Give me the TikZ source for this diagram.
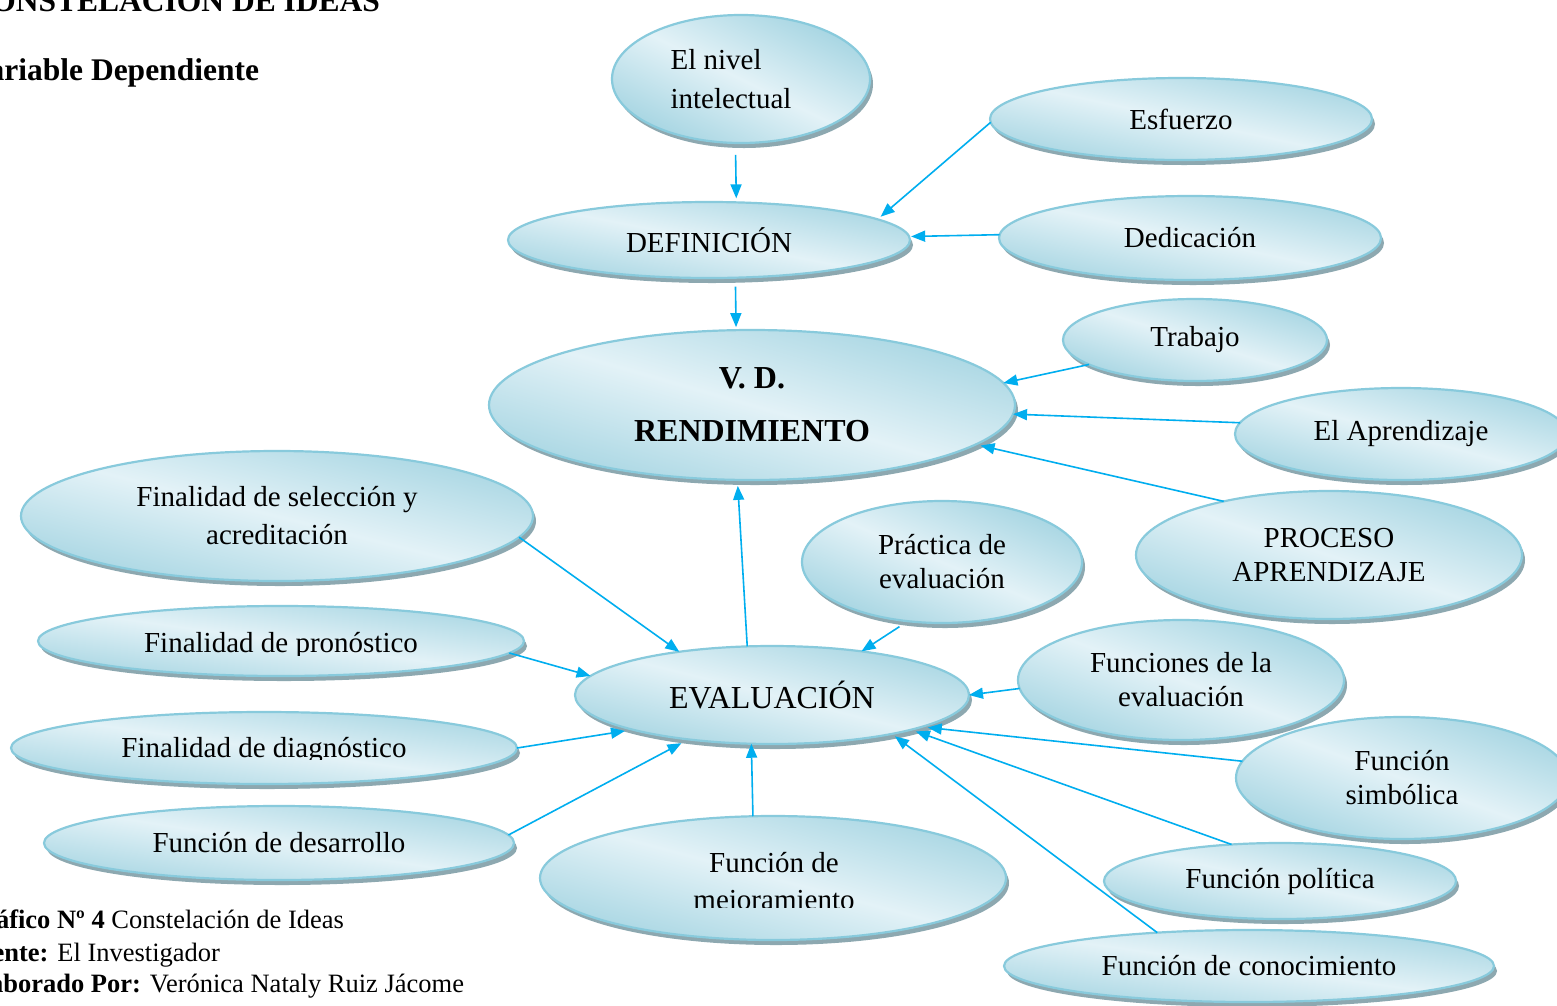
\documentclass[tikz,border=0pt]{standalone}
\usepackage{fontspec}
\setmainfont{Liberation Serif}
\usetikzlibrary{arrows.meta,shadows,shapes.geometric}
\definecolor{ovdk}{HTML}{A6D5E2}
\definecolor{ovlt}{HTML}{E3F2F7}
\definecolor{ovline}{HTML}{88CADC}
\definecolor{ovshadow}{HTML}{8DA8B0}
\definecolor{arrowc}{HTML}{00AEEF}
\tikzset{
  oval/.style={ellipse, draw=ovline, line width=2.2pt, inner sep=0pt, outer sep=0pt,
    top color=ovdk, bottom color=ovdk, middle color=ovlt,
    drop shadow={shadow xshift=3pt, shadow yshift=-5pt, fill=ovshadow, opacity=1},
    font=\fontsize{29}{34}\selectfont, align=center},
  txt/.style={inner sep=0pt, outer sep=0pt, font=\fontsize{29}{34}\selectfont},
  captxt/.style={inner sep=0pt, outer sep=0pt, anchor=base east, font=\fontsize{26.5}{30}\selectfont},
  ttltxt/.style={inner sep=0pt, outer sep=0pt, anchor=base east, font=\fontsize{31.5}{36}\selectfont\bfseries},
  conn/.style={draw=arrowc, line width=1.6pt, -{Triangle[length=14pt,width=11pt]}},
}
\begin{document}
\begin{tikzpicture}[x=1pt,y=-1pt]
\useasboundingbox (0,0) rectangle (1557,1005);
\fill[white] (0,0) rectangle (1557,1005);

% titles
\node[ttltxt] (t1) at (380,11) {CONSTELACIÓN DE IDEAS};
\node[ttltxt] (t2) at (259,80) {Variable Dependiente};

% captions
\node[captxt] (c1) at (344,928) {\textbf{Gráfico Nº 4} Constelación de Ideas};
\node[captxt] (c2) at (220,961) {\textbf{Fuente:} El Investigador};
\node[captxt] (c3) at (464,992) {\textbf{Elaborado Por:} Verónica Nataly Ruiz Jácome};

% ovals
\node[oval, shading angle=-26, minimum width=258pt, minimum height=128pt, align=left] (nivel) at (741,79) {El nivel\\[5pt]intelectual\hspace*{20pt}};
\node[oval, shading angle=-12, minimum width=382pt, minimum height=82pt] (esf) at (1181,119) {Esfuerzo};
\node[oval, shading angle=-11, minimum width=402pt, minimum height=76pt] (def) at (709,240) {DEFINICIÓN};
\node[oval, shading angle=-12, minimum width=382pt, minimum height=84pt] (ded) at (1190,238) {Dedicación};
\node[oval, shading angle=-17, minimum width=264pt, minimum height=82pt] (trab) at (1195,340) {Trabajo};
\node[oval, shading angle=-16, minimum width=526pt, minimum height=150pt, font=\fontsize{32}{38}\selectfont\bfseries] (vd) at (752,405) {V. D.\\[15pt]RENDIMIENTO};
\node[oval, shading angle=-15, minimum width=332pt, minimum height=92pt] (apr) at (1401,434) {El Aprendizaje};
\node[oval, shading angle=-18, minimum width=386pt, minimum height=128pt] (proc) at (1329,555) {PROCESO\\APRENDIZAJE};
\node[oval, shading angle=-14, minimum width=512pt, minimum height=130pt] (sel) at (277,516) {Finalidad de selección y\\[4pt]acreditación};
\node[oval, shading angle=-23, minimum width=280pt, minimum height=122pt] (prac) at (942,562) {Práctica de\\evaluación};
\node[oval, shading angle=-8, minimum width=486pt, minimum height=70pt] (pron) at (281,641) {};
\node[oval, shading angle=-14, minimum width=394pt, minimum height=98pt, font=\fontsize{32}{38}\selectfont] (eval) at (772,695) {EVALUACIÓN};
\node[oval, shading angle=-20, minimum width=326pt, minimum height=120pt] (func) at (1181,680) {Funciones de la\\evaluación};
\node[oval, shading angle=-8, minimum width=506pt, minimum height=72pt] (diag) at (264,748) {};
\node[oval, shading angle=-20, minimum width=332pt, minimum height=122pt] (simb) at (1402,778) {Función\\simbólica};
\node[oval, shading angle=-9, minimum width=470pt, minimum height=74pt] (desa) at (279,843) {Función de desarrollo};
\node[oval, shading angle=-15, minimum width=466pt, minimum height=124pt] (mejo) at (773,878) {};
\node[oval, shading angle=-12, minimum width=352pt, minimum height=76pt] (poli) at (1280,881) {Función política};
\node[oval, shading angle=-8, minimum width=490pt, minimum height=72pt] (cono) at (1249,966) {Función de conocimiento};

% clipped texts
\begin{scope}
  \clip (20,600) rectangle (540,655);
  \node[txt, anchor=base] (pront) at (281,652) {Finalidad de pronóstico};
\end{scope}
\begin{scope}
  \clip (0,700) rectangle (540,759);
  \node[txt, anchor=base] (diagt) at (264,757) {Finalidad de diagnóstico};
\end{scope}
\node[txt, anchor=base] (mejot1) at (774,872) {Función de};
\begin{scope}
  \clip (540,880) rectangle (1010,907);
  \node[txt, anchor=base] (mejot2) at (774,909) {mejoramiento};
\end{scope}

% connectors
\draw[conn, shorten <=12pt, shorten >=4pt] (nivel.265.5) -- (def.54.4);
\draw[conn, shorten >=4pt] (esf.181.5) -- (def.7.1);
\draw[conn, shorten >=2pt] (ded.179.6) -- (def.1.2);
\draw[conn, shorten <=9pt, shorten >=3pt] (def.305.6) -- (vd.102.1);
\draw[conn] (trab.193.9) -- (vd.5.5);
\draw[conn] (apr.176.2) -- (vd.-2.2);
\draw[conn, shorten >=5pt] (proc.153.4) -- (vd.-10.8);
\draw[conn, shorten >=6pt] (eval.117.9) -- (vd.259.4);
\draw[conn] (sel.-5.8) -- (eval.155.9);
\draw[conn] (pron.-3.6) -- (eval.174);
\draw[conn, shorten >=8pt] (diag.0.2) -- (eval.194.4);
\draw[conn, shorten >=8pt] (desa.2.9) -- (eval.208);
\draw[conn] (mejo.108.8) -- (eval.247.7);
\draw[conn, shorten <=10pt] (prac.240.7) -- (eval.26.3);
\draw[conn] (func.183.9) -- (eval.-0.6);
\draw[conn, shorten >=6pt] (simb.174.1) -- (eval.-12.65);
\draw[conn, shorten >=5pt] (poli.143) -- (eval.-14.9);
\draw[conn, shorten >=4pt] (cono.160.4) -- (eval.-18.4);
\end{tikzpicture}
\end{document}
